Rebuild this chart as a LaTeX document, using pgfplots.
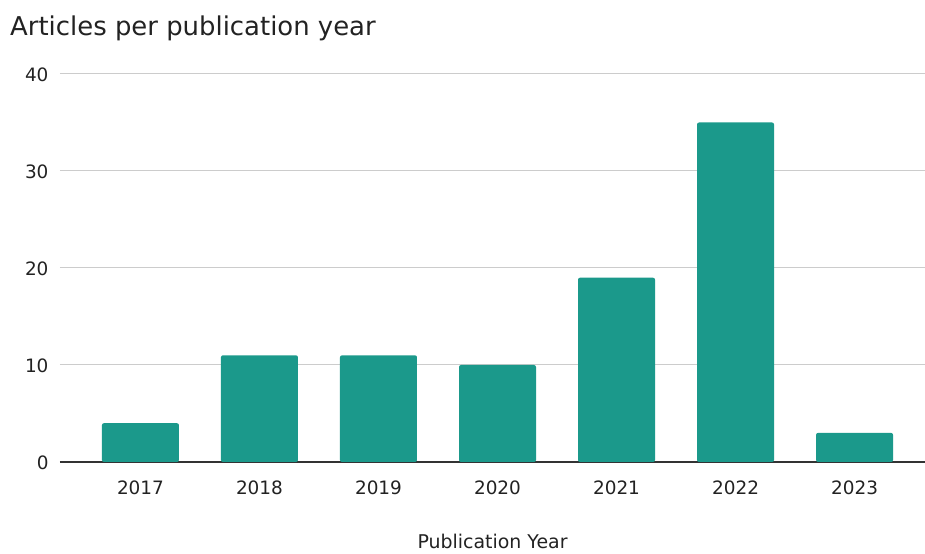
\documentclass[border=0pt]{standalone}
\usepackage{pgfplots}
\pgfplotsset{compat=1.18}
\usepackage{fontspec}
\setmainfont{DejaVu Sans}
\definecolor{barteal}{RGB}{27,153,139}
\definecolor{txt}{RGB}{34,34,34}
\definecolor{gridc}{RGB}{204,204,204}
\definecolor{axc}{RGB}{51,51,51}
\begin{document}
\begin{tikzpicture}
\useasboundingbox (0,0) rectangle (925bp,554bp);
\begin{axis}[
  at={(60bp,92bp)}, anchor=south west,
  scale only axis,
  width=865bp, height=388bp,
  ybar, bar width=0.647,
  xmin=-0.676, xmax=6.592,
  ymin=0, ymax=40,
  ytick={0,10,20,30,40},
  xtick=data,
  xticklabels={2017,2018,2019,2020,2021,2022,2023},
  axis x line*=bottom,
  axis y line*=left,
  y axis line style={draw=none},
  x axis line style={axc, line width=1.3bp, -},
  ymajorgrids, grid style={gridc, line width=1bp},
  major tick length=0pt,
  tick style={draw=none},
  /pgf/number format/assume math mode=true,
  ticklabel style={font=\fontsize{18.5}{20}\selectfont, text=txt},
  yticklabel style={xshift=-8bp, yshift=-1bp},
  xticklabel style={yshift=-15bp},
  xlabel={Publication Year},
  xlabel style={font=\fontsize{19}{22}\selectfont, text=txt, yshift=-33bp},
  clip=false,
]
\addplot[fill=barteal, draw=none, rounded corners=2bp] coordinates {
(0,4) (1,11) (2,11) (3,10) (4,19) (5,35) (6,3)};
\end{axis}
\node[anchor=base west, text=txt, font=\fontsize{26}{30}\selectfont, inner sep=0pt] at (10bp,518bp) {Articles per publication year};
\end{tikzpicture}
\end{document}
